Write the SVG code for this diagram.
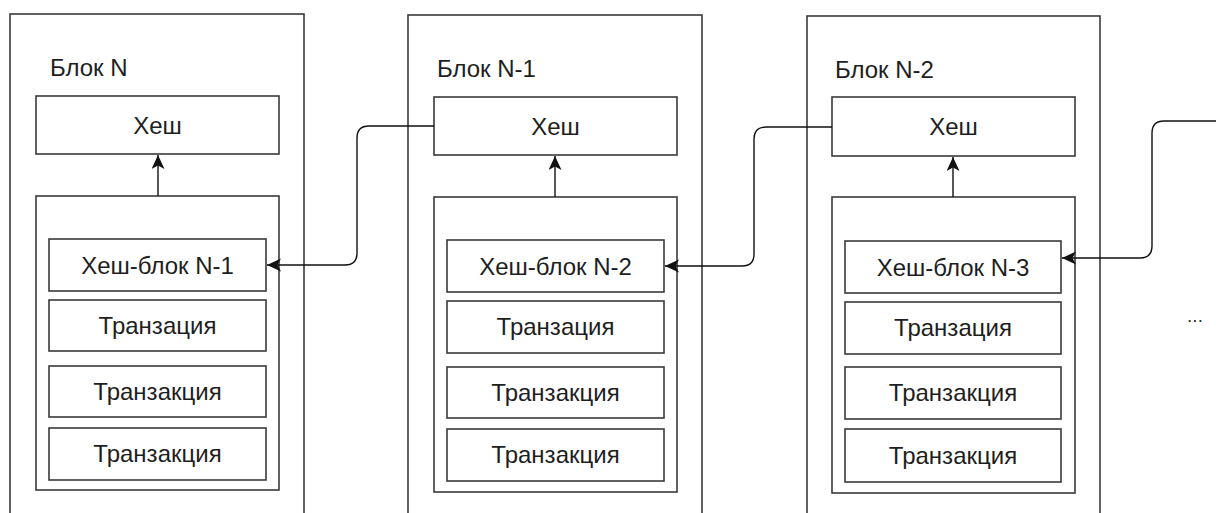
<svg xmlns="http://www.w3.org/2000/svg" width="1216" height="513" viewBox="0 0 1216 513">
  <style>
    .box { fill: #ffffff; stroke: #3a3a3a; stroke-width: 1.6; }
    .label { font-family: "Liberation Sans", Arial, sans-serif; font-size: 24px; fill: #1e1e1e; }
    .mid { text-anchor: middle; }
    .link { fill: none; stroke: #111111; stroke-width: 1.4; }
  </style>
  <defs>
    <marker id="arrow" markerUnits="userSpaceOnUse" markerWidth="16" markerHeight="14" refX="14" refY="6.5" orient="auto">
      <path d="M0,0 L14,6.5 L0,13 L3.5,6.5 Z" fill="#111111"/>
    </marker>
  </defs>
  <rect width="1216" height="513" fill="#ffffff"/>

  <!-- Block N -->
  <g id="block-n">
    <rect class="box" x="10" y="14" width="294" height="520"/>
    <text class="label" x="50" y="76">Блок N</text>
    <rect class="box" x="36" y="96" width="243" height="58"/>
    <text class="label mid" x="157.5" y="134">Хеш</text>
    <rect class="box" x="36" y="196" width="243" height="294"/>
    <rect class="box" x="49" y="239" width="217" height="52"/>
    <text class="label mid" x="157.5" y="274">Хеш-блок N-1</text>
    <rect class="box" x="49" y="300" width="217" height="51"/>
    <text class="label mid" x="157.5" y="334">Транзация</text>
    <rect class="box" x="49" y="366" width="217" height="51"/>
    <text class="label mid" x="157.5" y="400">Транзакция</text>
    <rect class="box" x="49" y="428" width="217" height="52"/>
    <text class="label mid" x="157.5" y="462">Транзакция</text>
  </g>

  <!-- Block N-1 -->
  <g id="block-n-1">
    <rect class="box" x="408" y="15" width="294" height="520"/>
    <text class="label" x="437" y="77">Блок N-1</text>
    <rect class="box" x="434" y="97" width="243" height="58"/>
    <text class="label mid" x="555.5" y="135">Хеш</text>
    <rect class="box" x="434" y="197" width="243" height="295"/>
    <rect class="box" x="447" y="240" width="217" height="52"/>
    <text class="label mid" x="555.5" y="275">Хеш-блок N-2</text>
    <rect class="box" x="447" y="301" width="217" height="52"/>
    <text class="label mid" x="555.5" y="335">Транзация</text>
    <rect class="box" x="447" y="367" width="217" height="51"/>
    <text class="label mid" x="555.5" y="401">Транзакция</text>
    <rect class="box" x="447" y="429" width="217" height="52"/>
    <text class="label mid" x="555.5" y="463">Транзакция</text>
  </g>

  <!-- Block N-2 -->
  <g id="block-n-2">
    <rect class="box" x="807" y="16" width="293" height="520"/>
    <text class="label" x="835" y="78">Блок N-2</text>
    <rect class="box" x="832" y="97" width="243" height="59"/>
    <text class="label mid" x="953.5" y="135">Хеш</text>
    <rect class="box" x="832" y="197" width="243" height="296"/>
    <rect class="box" x="845" y="241" width="216" height="52"/>
    <text class="label mid" x="953" y="276">Хеш-блок N-3</text>
    <rect class="box" x="845" y="302" width="216" height="52"/>
    <text class="label mid" x="953" y="336">Транзация</text>
    <rect class="box" x="845" y="367" width="216" height="52"/>
    <text class="label mid" x="953" y="401">Транзакция</text>
    <rect class="box" x="845" y="429" width="216" height="53"/>
    <text class="label mid" x="953" y="464">Транзакция</text>
  </g>

  <!-- continuation mark -->
  <g id="more">
    <text x="1195" y="322" text-anchor="middle" font-family="'Liberation Sans', Arial, sans-serif" font-size="19" fill="#333333">...</text>
  </g>

  <!-- Connectors -->
  <g id="connectors">
    <!-- transactions container to block hash -->
    <line class="link" x1="158" y1="196" x2="158" y2="155" marker-end="url(#arrow)"/>
    <line class="link" x1="555" y1="197" x2="555" y2="156" marker-end="url(#arrow)"/>
    <line class="link" x1="953" y1="197" x2="953" y2="157" marker-end="url(#arrow)"/>
    <!-- previous block hash to the stored reference -->
    <path class="link" d="M434,126 H369 Q357,126 357,138 V253 Q357,265 345,265 H267" marker-end="url(#arrow)"/>
    <path class="link" d="M832,127 H766 Q754,127 754,139 V254 Q754,266 742,266 H665" marker-end="url(#arrow)"/>
    <path class="link" d="M1216,121 H1164 Q1152,121 1152,133 V246 Q1152,258 1140,258 H1062" marker-end="url(#arrow)"/>
  </g>
</svg>
